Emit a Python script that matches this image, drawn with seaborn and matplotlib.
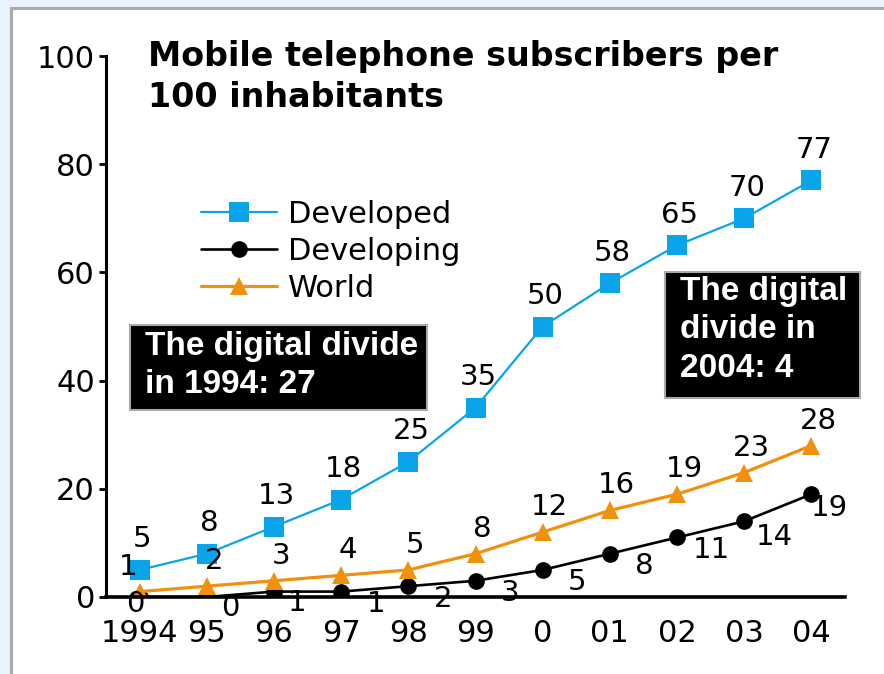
import pandas as pd
import matplotlib.pyplot as plt
import seaborn as sns
from matplotlib.patches import Rectangle

# Chart data
years = ['1994', '95', '96', '97', '98', '99', '0', '01', '02', '03', '04']
developed = [5, 8, 13, 18, 25, 35, 50, 58, 65, 70, 77]
developing = [0, 0, 1, 1, 2, 3, 5, 8, 11, 14, 19]
world = [1, 2, 3, 4, 5, 8, 12, 16, 19, 23, 28]
series_names = ['Developed', 'Developing', 'World']
title_text = 'Mobile telephone subscribers per\n100 inhabitants'
box_1994 = 'The digital divide\nin 1994: 27'
box_2004 = 'The digital\ndivide in\n2004: 4'

sns.set_theme(style='white', rc={'text.color': 'black', 'xtick.color': 'black',
                                 'ytick.color': 'black', 'axes.labelcolor': 'black'})
plt.rcParams['font.family'] = ['DejaVu Sans']

rows = []
for name, vals in zip(series_names, [developed, developing, world]):
    for i, v in enumerate(vals):
        rows.append({'pos': i, 'value': v, 'series': name})
df = pd.DataFrame(rows)

colors = {'Developed': '#0aa4ea', 'Developing': '#000000', 'World': '#f0900c'}
markers = {'Developed': 's', 'Developing': 'o', 'World': '^'}
sizes = {'Developed': 14, 'Developing': 12, 'World': 13}
widths = {'Developed': 1.6, 'Developing': 1.9, 'World': 2.3}

fig = plt.figure(figsize=(8.84, 6.74), dpi=100, facecolor='#e8f3fd')
# white panel with grey frame
fig.add_artist(Rectangle((10.5 / 884, -0.1), 1.2, (674 - 7.5) / 674 + 0.1,
                         transform=fig.transFigure, facecolor='white',
                         edgecolor='#aaaaaa', linewidth=2.2, zorder=0))

ax = fig.add_axes([106 / 884, 77 / 674, 739 / 884, 541 / 674])
ax.set_facecolor('none')

sns.lineplot(data=df, x='pos', y='value', hue='series', style='series',
             palette=colors, markers=markers, dashes=False, ax=ax,
             linewidth=1.8, markeredgewidth=0, legend=True)

for line, name in zip(ax.get_lines()[:3], series_names):
    line.set_markersize(sizes[name])
    line.set_linewidth(widths[name])

# value labels
for i, v in enumerate(developed):
    ax.annotate(str(v), (i, v), xytext=(2, 22), textcoords='offset points',
                ha='center', va='center', fontsize=21)
for i, v in enumerate(world):
    dx = -8 if i == 0 else 5
    ax.annotate(str(v), (i, v), xytext=(dx, 18), textcoords='offset points',
                ha='center', va='center', fontsize=21)
for i, v in enumerate(developing):
    if i == 0:
        off = (-3, -5)
    elif i < 3:
        off = (17, -8)
    elif i == 10:
        off = (13, -10)
    elif i == 9:
        off = (22, -11)
    else:
        off = (25, -9)
    ax.annotate(str(v), (i, v), xytext=off, textcoords='offset points',
                ha='center', va='center', fontsize=21)

# axes styling
ax.set_xlim(-0.5, 10.5)
ax.set_ylim(0, 100)
ax.set_yticks([0, 20, 40, 60, 80, 100])
ax.set_xticks(range(len(years)))
ax.set_xticklabels(years)
ax.set_xticks([i - 0.5 for i in range(len(years) + 1)], minor=True)
ax.tick_params(axis='x', which='major', length=0, labelsize=22, pad=16)
ax.tick_params(axis='x', which='minor', length=8, width=2.2, color='black', direction='out')
ax.tick_params(axis='y', length=5, width=2, color='black', direction='out',
               labelsize=22, pad=3, left=True)
ax.set_xlabel('')
ax.set_ylabel('')
for s in ['top', 'right']:
    ax.spines[s].set_visible(False)
ax.spines['left'].set_color('black')
ax.spines['left'].set_linewidth(2.2)
ax.spines['bottom'].set_color('black')
ax.spines['bottom'].set_linewidth(2.6)
ax.grid(False)

# legend
handles, labels = ax.get_legend_handles_labels()
leg = ax.legend(handles, labels, loc='upper left', bbox_to_anchor=(0.1286, 0.734),
                frameon=False, fontsize=22, handlelength=2.5, handletextpad=0.35,
                labelspacing=0.26, borderpad=0, borderaxespad=0)
for h, name in zip(leg.legend_handles, series_names):
    h.set_markersize(sizes[name])
    h.set_linewidth(widths[name])

# title
ax.text(0.057, 1.03, title_text, transform=ax.transAxes, ha='left', va='top',
        fontsize=24, fontweight='bold', linespacing=1.3, clip_on=False)

# digital divide boxes
ax.add_patch(Rectangle((-0.143, 34.6), 4.42, 15.7, facecolor='black',
                       edgecolor='#aaaaaa', linewidth=1.5, clip_on=False, zorder=5))
ax.text(0.08, 49.2, box_1994, ha='left', va='top', color='white', fontsize=24,
        fontweight='bold', family=['Liberation Sans'], linespacing=1.3, zorder=6)
ax.add_patch(Rectangle((7.82, 36.8), 2.9, 23.3, facecolor='black',
                       edgecolor='#aaaaaa', linewidth=1.5, clip_on=False, zorder=5))
ax.text(8.04, 59.3, box_2004, ha='left', va='top', color='white', fontsize=24,
        fontweight='bold', family=['Liberation Sans'], linespacing=1.3, zorder=6,
        clip_on=False)

fig.savefig('out.png', dpi=100, facecolor=fig.get_facecolor())
